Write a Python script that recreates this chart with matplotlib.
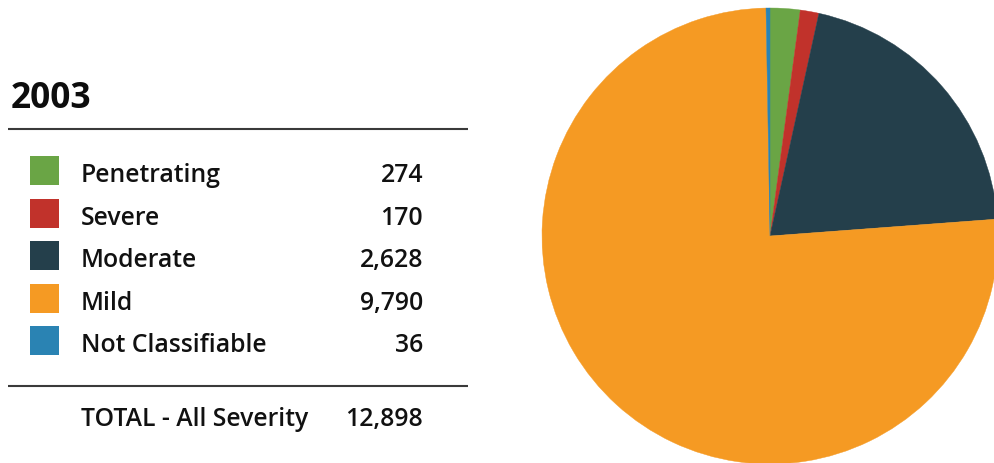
import matplotlib.pyplot as plt
from matplotlib.patches import Rectangle

# datos de la figura
year = '2003'
categories = ['Penetrating', 'Severe', 'Moderate', 'Mild', 'Not Classifiable']
values = [274, 170, 2628, 9790, 36]
colors = ['#6aa545', '#c1322b', '#243f4b', '#f59a23', '#2a83b3']
total_label = 'TOTAL - All Severity'
total = 12898

plt.rcParams['font.family'] = ['Open Sans', 'DejaVu Sans']

W, H = 995, 464
fig = plt.figure(figsize=(W / 100, H / 100), dpi=100)

# capa de fondo en coordenadas de pixel
bg = fig.add_axes([0, 0, 1, 1])
bg.set_xlim(0, W)
bg.set_ylim(H, 0)
bg.axis('off')

txt = dict(fontsize=17.8, fontweight='semibold', color='#111111', va='baseline')

bg.text(11, 108, year, fontsize=25.5, fontweight='bold', color='#0d0d0d', va='baseline')
bg.plot([8, 468], [130, 130], color='#3a3a3a', lw=1.5, solid_capstyle='butt')
bg.plot([8, 468], [387, 387], color='#3a3a3a', lw=1.5, solid_capstyle='butt')

row0 = 171.5
step = 42.5
for i, (cat, val, col) in enumerate(zip(categories, values, colors)):
    yc = row0 + i * step
    bg.add_patch(Rectangle((30, yc - 14.5), 29, 29, color=col, lw=0))
    bg.text(81, yc + 11, cat, **txt)
    bg.text(423, yc + 11, f'{val:,}', ha='right', **txt)

bg.text(81, 426, total_label, **txt)
bg.text(423, 426, f'{total:,}', ha='right', **txt)

# pastel
cx, cy, r = 770, 237, 228
ax = fig.add_axes([(cx - r) / W, (H - cy - r) / H, 2 * r / W, 2 * r / H])
wedges, _ = ax.pie(values, colors=colors, startangle=90, counterclock=False,
                   wedgeprops={'linewidth': 0})
for w in wedges:
    w.set_edgecolor(w.get_facecolor())
    w.set_linewidth(0.3)
ax.set_xlim(-1, 1)
ax.set_ylim(-1, 1)
ax.set_aspect('equal')
ax.axis('off')

fig.savefig('out.png', dpi=100)
